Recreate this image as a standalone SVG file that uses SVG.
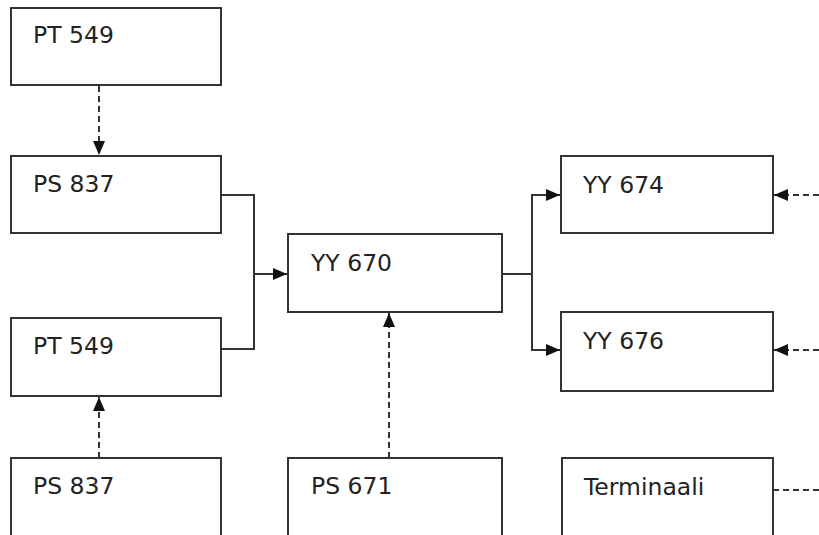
<svg xmlns="http://www.w3.org/2000/svg" width="819" height="535" viewBox="0 0 819 535">
<style>
.box{fill:#fff;stroke:#333;stroke-width:2}
.lbl{font-family:"DejaVu Sans",Verdana,sans-serif;font-size:23.5px;fill:#222}
.ln{fill:none;stroke:#333;stroke-width:2}
.dash{stroke-dasharray:6,4}
</style>
<defs>
<marker id="ah" viewBox="0 0 14 14" refX="14" refY="7" markerWidth="14" markerHeight="14" markerUnits="userSpaceOnUse" orient="auto">
<path d="M0,1 L14,7 L0,13 Z" fill="#111"/>
</marker>
</defs>
<rect width="819" height="535" fill="#fff"/>
<g id="connectors">
<path class="ln dash" d="M99,86 V155" marker-end="url(#ah)"/>
<path class="ln dash" d="M99,458 V397" marker-end="url(#ah)"/>
<path class="ln dash" d="M389,458 V313" marker-end="url(#ah)"/>
<path class="ln" d="M221,195 H254 V349 H221"/>
<path class="ln" d="M254,274 H287" marker-end="url(#ah)"/>
<path class="ln" d="M502,274 H532"/>
<path class="ln" d="M532,274 V195 H560" marker-end="url(#ah)"/>
<path class="ln" d="M532,274 V350 H560" marker-end="url(#ah)"/>
<path class="ln dash" d="M819,195 H774" marker-end="url(#ah)"/>
<path class="ln dash" d="M819,350 H774" marker-end="url(#ah)"/>
<path class="ln dash" d="M773,490 H819"/>
</g>
<g id="n1"><rect class="box" x="11" y="8" width="210" height="77"/><text class="lbl" x="33" y="43">PT 549</text></g>
<g id="n2"><rect class="box" x="11" y="156" width="210" height="77"/><text class="lbl" x="33" y="192">PS 837</text></g>
<g id="n3"><rect class="box" x="11" y="318" width="210" height="78"/><text class="lbl" x="33" y="354">PT 549</text></g>
<g id="n4"><rect class="box" x="11" y="458" width="210" height="90"/><text class="lbl" x="33" y="494">PS 837</text></g>
<g id="n5"><rect class="box" x="288" y="234" width="214" height="78"/><text class="lbl" x="311" y="271">YY 670</text></g>
<g id="n6"><rect class="box" x="288" y="458" width="214" height="90"/><text class="lbl" x="311" y="494">PS 671</text></g>
<g id="n7"><rect class="box" x="561" y="156" width="212" height="77"/><text class="lbl" x="583" y="193">YY 674</text></g>
<g id="n8"><rect class="box" x="561" y="312" width="212" height="79"/><text class="lbl" x="583" y="349">YY 676</text></g>
<g id="n9"><rect class="box" x="562" y="458" width="211" height="90"/><text class="lbl" x="584" y="495">Terminaali</text></g>
</svg>
